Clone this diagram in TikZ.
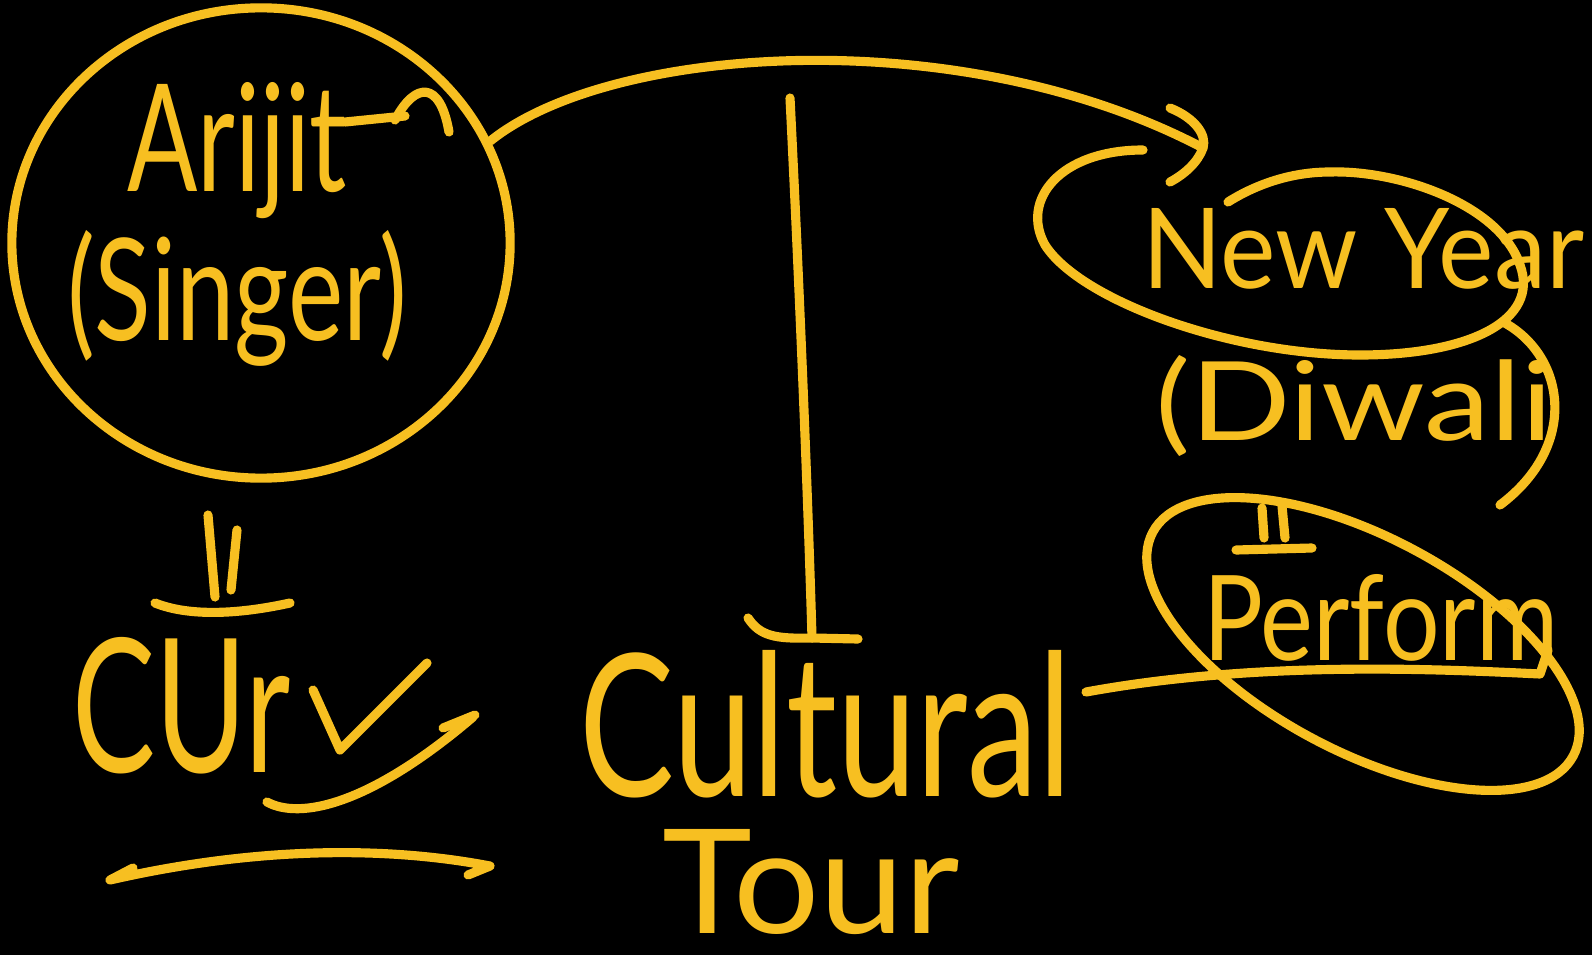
\documentclass[tikz,border=0pt]{standalone}
\usepackage{fontspec}
\setmainfont{Lato}
\usepackage{graphicx}
\usetikzlibrary{shapes.geometric}
\definecolor{ink}{RGB}{247,191,33}
% scale a word to a given width and height above its baseline
\newcommand\inkword[3]{\resizebox{#1}{#2}{#3}}
\begin{document}
\begin{tikzpicture}[x=0.01cm,y=-0.01cm,
  pen/.style={draw=ink, line width=2.6pt, line cap=round, line join=round},
  ring/.style={pen, ellipse, inner sep=0pt},
  word/.style={inner sep=0pt, outer sep=0pt, text=ink, anchor=base west}]
\fill[black] (0,0) rectangle (1592,955);
\useasboundingbox (0,0) rectangle (1592,955);

% words
\node[word] (tArijit)   at (127,192) {\inkword{2.20cm}{1.09cm}{Arijit}};
\node[word] (tSinger)   at (67,340)  {\inkword{3.40cm}{1.10cm}{(Singer)}};
\node[word] (tCur)      at (72,772)  {\inkword{2.18cm}{1.35cm}{CUr}};
\node[word] (tCultural) at (579,796) {\inkword{4.92cm}{1.46cm}{Cultural}};
\node[word] (tTour)     at (662,933) {\inkword{2.98cm}{1.04cm}{Tour}};
\node[word] (tNewYear)  at (1142,288){\inkword{4.42cm}{0.80cm}{New Year}};
\node[word] (tDiwali)   at (1155,440){\inkword{3.98cm}{0.85cm}{(Diwali}};
\node[word] (tPerform)  at (1203,660){\inkword{3.55cm}{0.86cm}{Perform}};

% ring round the singer
\node[ring, minimum width=4.98cm, minimum height=4.70cm] (singer) at (261,243) {};
% curl off the t
\draw[pen] (345,122) -- (405,116);
\draw[pen] (395,120) .. controls (415,82) and (440,80) .. (449,132);

% arrow over the top to the new year loop
\coordinate (nyIn) at (1203,148);
\draw[pen] (singer.24) .. controls (610,45) and (960,20) .. (nyIn);
\draw[pen] (1170,108) .. controls (1195,118) and (1207,135) .. (nyIn)
           .. controls (1198,162) and (1185,174) .. (1170,182);

% loop round "New Year"
\draw[pen] (1143,150) .. controls (1060,150) and (1020,200) .. (1045,245)
           .. controls (1080,300) and (1230,355) .. (1360,355)
           .. controls (1470,355) and (1540,320) .. (1520,265)
           .. controls (1500,205) and (1400,170) .. (1330,172)
           .. controls (1290,172) and (1255,185) .. (1228,202);
% arc round "(Diwali"
\draw[pen] (1503,322) .. controls (1565,355) and (1580,445) .. (1500,505);

% equals mark and bar above "Perform"
\draw[pen] (1262,508) -- (1264,538);
\draw[pen] (1282,506) -- (1285,538);
\draw[pen] (1236,550) -- (1312,548);

% ring round "Perform"
\node[ring, rotate=-28, minimum width=4.76cm, minimum height=2.14cm] (perfRing) at (1363,644) {};

% link from "Cultural" to "Perform"
\coordinate (culR) at (1086,692);
\coordinate (perfEnd) at (1540,674);
\draw[pen] (culR) .. controls (1250,662) and (1420,668) .. (perfEnd) -- (1548,650);

% stem down to "Cultural"
\coordinate (stemTop) at (790,98);
\coordinate (stemFoot) at (812,638);
\draw[pen] (stemTop) .. controls (800,300) and (808,500) .. (stemFoot);
\draw[pen] (748,618) .. controls (760,636) and (775,639) .. (stemFoot) -- (858,639);

% equals mark under the singer ring
\draw[pen] (208,515) -- (215,597);
\draw[pen] (237,530) -- (231,590);
\draw[pen] (155,603) .. controls (190,617) and (240,614) .. (290,603);

% tick, underline and double arrow under "CUr"
\draw[pen] (313,690) -- (340,750) -- (427,663);
\draw[pen] (267,802) .. controls (300,820) and (370,805) .. (473,717);
\draw[pen] (443,728) -- (475,715);
\draw[pen] (133,868) -- (110,880) .. controls (250,848) and (380,845) .. (490,866) -- (468,875);
\end{tikzpicture}
\end{document}
